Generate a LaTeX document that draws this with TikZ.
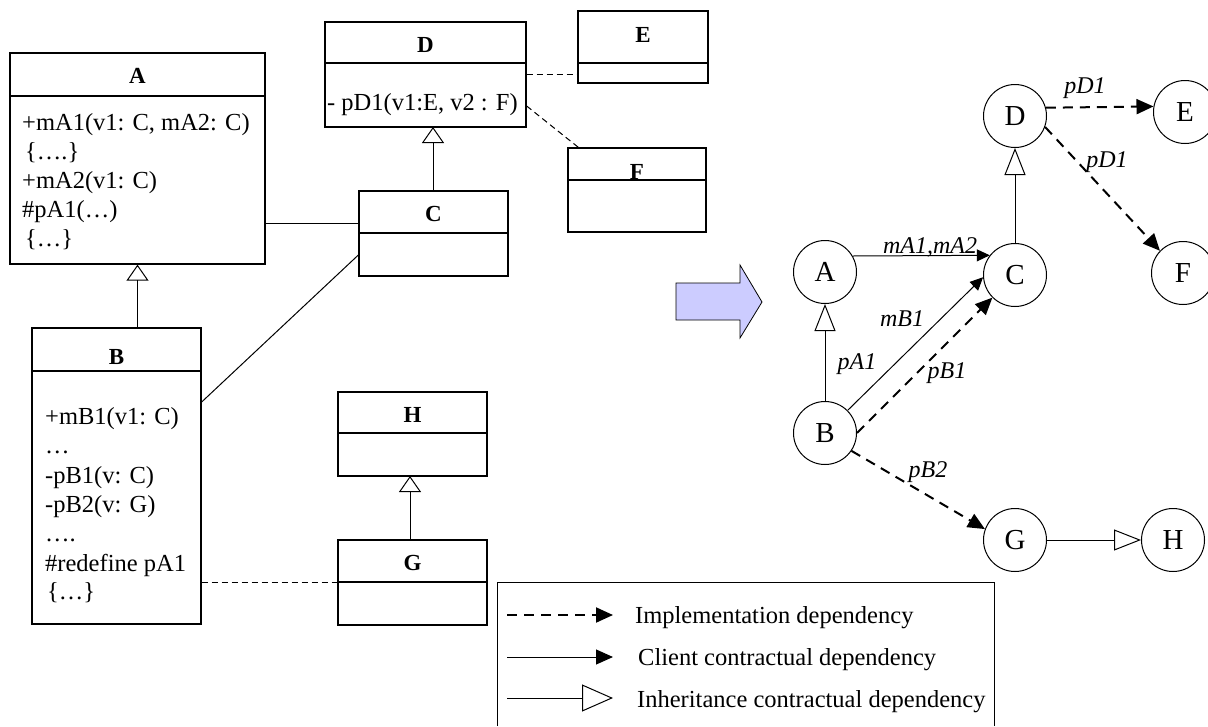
\documentclass[tikz,border=0pt]{standalone}
\usepackage{fontspec}
\setmainfont{Liberation Serif}
\usetikzlibrary{arrows.meta}
\definecolor{arrowfill}{RGB}{204,204,255}
\tikzset{
 umlbox/.style={draw, line width=1.3pt, inner sep=0pt},
 umlsep/.style={line width=1.3pt},
 umltitle/.style={anchor=base, inner sep=0pt, font=\fontsize{23}{27}\selectfont\bfseries},
 umltext/.style={anchor=base west, inner sep=0pt, font=\fontsize{24.5}{29}\selectfont},
 umlline/.style={line width=1pt},
 umldash/.style={line width=1pt, dash pattern=on 6pt off 4pt},
 umlinh/.style={line width=1pt, -{Triangle[open, length=16pt, width=22pt]}},
 gnode/.style={circle, draw, line width=1pt, minimum size=63pt, inner sep=0pt, font=\fontsize{29}{32}\selectfont},
 glabel/.style={anchor=base, inner sep=0pt, font=\fontsize{24}{28}\selectfont\itshape},
 impl/.style={line width=2pt, dash pattern=on 10pt off 7pt, -{Triangle[length=17pt, width=15pt]}},
 client/.style={line width=1pt, -{Triangle[length=13pt, width=12pt]}},
 inh/.style={line width=1pt, -{Triangle[open, length=27pt, width=21pt]}},
 leginh/.style={line width=1pt, -{Triangle[open, length=31pt, width=27pt]}},
 legtext/.style={anchor=base west, inner sep=0pt, font=\fontsize{24.5}{29}\selectfont},
}
\begin{document}
\begin{tikzpicture}[x=1pt,y=-1pt]
\useasboundingbox (0,0) rectangle (1208,726);

% ---------- UML part ----------
% Box A
\node[umlbox, minimum width=255pt, minimum height=211pt] (bA) at (137.5,158.5) {};
\draw[umlsep] (bA.west |- 0,96) -- (bA.east |- 0,96);
\node[umltitle] (tA) at (137.5,83) {A};
\node[umltext] (a1) at (22,130) {+mA1(v1: C, mA2: C)};
\node[umltext] (a2) at (25,159) {\{….\}};
\node[umltext] (a3) at (22,188) {+mA2(v1: C)};
\node[umltext] (a4) at (22,217) {\#pA1(…)};
\node[umltext] (a5) at (25,246) {\{…\}};

% Box B
\node[umlbox, minimum width=169pt, minimum height=296pt] (bB) at (116.5,476) {};
\draw[umlsep] (bB.west |- 0,371) -- (bB.east |- 0,371);
\node[umltitle] (tB) at (116.5,364) {B};
\node[umltext] (b1) at (45,424) {+mB1(v1: C)};
\node[umltext] (b2) at (45,453) {…};
\node[umltext] (b3) at (45,483) {-pB1(v: C)};
\node[umltext] (b4) at (45,512) {-pB2(v: G)};
\node[umltext] (b5) at (45,541) {….};
\node[umltext] (b6) at (45,571) {\#redefine pA1};
\node[umltext] (b7) at (47,599) {\{…\}};

% Box C
\node[umlbox, minimum width=149pt, minimum height=85pt] (bC) at (433.5,233.5) {};
\draw[umlsep] (bC.west |- 0,233) -- (bC.east |- 0,233);
\node[umltitle] (tC) at (433.5,221) {C};

% Box D
\node[umlbox, minimum width=201pt, minimum height=105pt] (bD) at (425.5,74.5) {};
\draw[umlsep] (bD.west |- 0,63) -- (bD.east |- 0,63);
\node[umltitle] (tD) at (425.5,52) {D};
\node[umltext] (d1) at (327,110) {- pD1(v1:E, v2 : F)};

% Box E
\node[umlbox, minimum width=130pt, minimum height=72pt] (bE) at (643,47) {};
\draw[umlsep] (bE.west |- 0,63) -- (bE.east |- 0,63);
\node[umltitle] (tE) at (643,42) {E};

% Box F
\node[umlbox, minimum width=138pt, minimum height=84pt] (bF) at (637,190) {};
\draw[umlsep] (bF.west |- 0,180) -- (bF.east |- 0,180);
\node[umltitle] (tF) at (637,179) {F};

% Box H
\node[umlbox, minimum width=149pt, minimum height=84pt] (bH) at (412.5,434) {};
\draw[umlsep] (bH.west |- 0,433) -- (bH.east |- 0,433);
\node[umltitle] (tH) at (412.5,422) {H};

% Box G
\node[umlbox, minimum width=149pt, minimum height=85pt] (bG) at (412.5,582.5) {};
\draw[umlsep] (bG.west |- 0,582) -- (bG.east |- 0,582);
\node[umltitle] (tG) at (412.5,570) {G};

% UML connectors
\draw[umlline] (bA.east |- 0,223) -- (bC.west |- 0,223);
\draw[umlline] (bB.east |- 0,402) -- (bC.west |- 0,255);
\draw[umlinh] (433,191) -- (433,127);
\draw[umlinh] (bA.south |- bB.north) -- (bA.south);
\draw[umlinh] (410,540) -- (410,476);
\draw[umldash] (bD.east |- 0,74) -- (bE.west |- 0,74);
\draw[umldash] (bD.east |- 0,106) -- ([xshift=11pt]bF.north west);
\draw[umldash] (bB.east |- 0,582) -- (bG.west |- 0,582);

% ---------- big arrow ----------
\draw[fill=arrowfill, line width=0.8pt] (676,283) -- (740,283) -- (740,265) -- (762,302) -- (740,338) -- (740,320) -- (676,320) -- cycle;

% ---------- graph ----------
\node[gnode] (nA) at (825,272) {A};
\node[gnode] (nB) at (825,433) {B};
\node[gnode] (nC) at (1015,275) {C};
\node[gnode] (nD) at (1015,116) {D};
\node[gnode] (nE) at (1185,112) {E};
\node[gnode] (nF) at (1183,273) {F};
\node[gnode] (nG) at (1015,540) {G};
\node[gnode] (nH) at (1173,540) {H};

\draw[client] (nA.30) -- (nC.142);
\draw[inh] (nC.north) -- (nD.south);
\draw[inh] (nB.north) -- (nA.south);
\draw[client] (nB.45) -- (nC.184);
\draw[impl] (nB.east) -- (nC.225);
\draw[impl] (nB.-34) -- (nG.160);
\draw[inh] (nG.east) -- (nH.west);
\draw[impl] (nD.15) -- (nE.170);
\draw[impl] (nD.-20) -- (nF.136);

\node[glabel] (lmA) at (930,253) {mA1,mA2};
\node[glabel] (lmB) at (902,326) {mB1};
\node[glabel] (lpA) at (857,369) {pA1};
\node[glabel] (lpB1) at (947,378) {pB1};
\node[glabel] (lpB2) at (928,477) {pB2};
\node[glabel] (lpD1) at (1085,93) {pD1};
\node[glabel] (lpD2) at (1107,167) {pD1};

% ---------- legend ----------
\draw[line width=1pt] (497,726) -- (497,582) -- (994,582) -- (994,726);
\coordinate (l1s) at (507,615); \coordinate (l1e) at (613,615);
\coordinate (l2s) at (507,657); \coordinate (l2e) at (613,657);
\coordinate (l3s) at (507,698); \coordinate (l3e) at (613,698);
\draw[impl] (l1s) -- (l1e);
\draw[client, -{Triangle[length=17pt, width=15pt]}] (l2s) -- (l2e);
\draw[leginh] (l3s) -- (l3e);
\node[legtext] (t1) at (635,623) {Implementation dependency};
\node[legtext] (t2) at (638,665) {Client contractual dependency};
\node[legtext] (t3) at (637,707) {Inheritance contractual dependency};
\end{tikzpicture}
\end{document}
